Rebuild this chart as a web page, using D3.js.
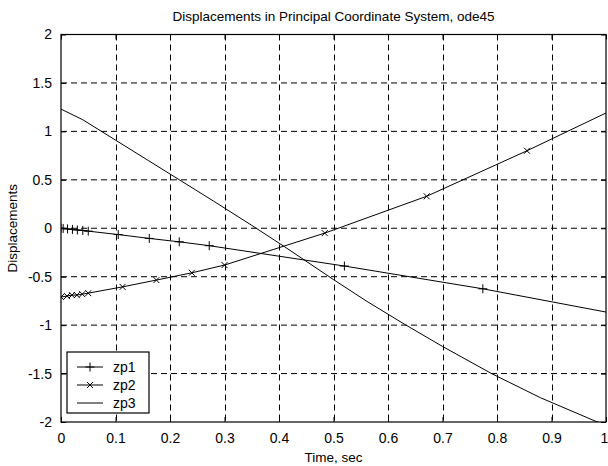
<!DOCTYPE html>
<html>
<head>
<meta charset="utf-8">
<script src="https://cdn.jsdelivr.net/npm/d3@7"></script>
<style>
  body { margin: 0; background: #fff; }
  text { font-family: "Liberation Sans", Arial, sans-serif; fill: #000; }
</style>
</head>
<body>
<div id="chart"></div>
<script>
// Data (ode45 output, adaptive steps)
const zp1T = [0, 0.004, 0.012, 0.021, 0.03, 0.04, 0.05, 0.105, 0.162, 0.217, 0.272, 0.52, 0.774, 1.0];
const zp1Y = [0, -0.002, -0.007, -0.012, -0.018, -0.023, -0.03, -0.065, -0.105, -0.14, -0.18, -0.39, -0.625, -0.865];

const zp2T = [0, 0.011, 0.02, 0.029, 0.039, 0.05, 0.113, 0.175, 0.24, 0.30, 0.484, 0.671, 0.855, 1.0];
const zp2Y = [-0.71, -0.70, -0.69, -0.69, -0.68, -0.67, -0.605, -0.535, -0.46, -0.38, -0.05, 0.33, 0.80, 1.19];

const zp3T = [0, 0.04, 0.1, 0.16, 0.22, 0.28, 0.35, 0.41, 0.5, 0.56, 0.63, 0.70, 0.79, 0.88, 0.98, 1.0];
const zp3Y = [1.23, 1.12, 0.91, 0.70, 0.49, 0.28, 0.03, -0.19, -0.53, -0.75, -0.99, -1.22, -1.50, -1.75, -1.99, -2.03];

const xTicks = [0, 0.1, 0.2, 0.3, 0.4, 0.5, 0.6, 0.7, 0.8, 0.9, 1];
const yTicks = [-2, -1.5, -1, -0.5, 0, 0.5, 1, 1.5, 2];
const seriesNames = ["zp1", "zp2", "zp3"];

const width = 608, height = 466;
const margin = { top: 34.5, right: 2, bottom: 44, left: 61 };
const w = width - margin.left - margin.right;
const h = height - margin.top - margin.bottom;

const svg = d3.select("#chart").append("svg")
    .attr("width", width)
    .attr("height", height);

const g = svg.append("g")
    .attr("transform", `translate(${margin.left},${margin.top})`);

const x = d3.scaleLinear().domain([0, 1]).range([0, w]);
const y = d3.scaleLinear().domain([-2, 2]).range([h, 0]);

// Grid
g.append("g").selectAll("line")
    .data(xTicks.slice(1, -1))
    .join("line")
    .attr("x1", d => Math.round(x(d)) + 0.5).attr("x2", d => Math.round(x(d)) + 0.5)
    .attr("y1", 0).attr("y2", h)
    .attr("stroke", "#000").attr("stroke-dasharray", "6,4");
g.append("g").selectAll("line")
    .data(yTicks.slice(1, -1))
    .join("line")
    .attr("x1", 0).attr("x2", w)
    .attr("y1", d => y(d)).attr("y2", d => y(d))
    .attr("stroke", "#000").attr("stroke-dasharray", "6,4");

// Axes with inward ticks on all sides
const fmt = d => String(d);
g.append("g").attr("transform", `translate(0,${h})`)
    .call(d3.axisBottom(x).tickValues(xTicks).tickFormat(fmt).tickSizeInner(-5).tickSizeOuter(0).tickPadding(11))
    .call(a => a.select(".domain").remove())
    .call(a => a.selectAll(".tick text").filter(d => d === 1).attr("dx", "-2"));
g.append("g")
    .call(d3.axisTop(x).tickValues(xTicks).tickFormat("").tickSizeInner(-5).tickSizeOuter(0))
    .call(a => a.select(".domain").remove());
g.append("g")
    .call(d3.axisLeft(y).tickValues(yTicks).tickFormat(fmt).tickSizeInner(-5).tickSizeOuter(0).tickPadding(9))
    .call(a => a.select(".domain").remove());
g.append("g").attr("transform", `translate(${w},0)`)
    .call(d3.axisRight(y).tickValues(yTicks).tickFormat("").tickSizeInner(-5).tickSizeOuter(0))
    .call(a => a.select(".domain").remove());
g.selectAll(".tick text").style("font-size", "14px").style("font-family", "Liberation Sans, Arial, sans-serif");
g.selectAll(".tick line").attr("stroke", "#000");

// Clip
svg.append("clipPath").attr("id", "clip")
    .append("rect").attr("width", w).attr("height", h);

const line = d3.line().x(d => x(d[0])).y(d => y(d[1]));
const plot = g.append("g").attr("clip-path", "url(#clip)");

const s1 = zp1T.map((t, i) => [t, zp1Y[i]]);
const s2 = zp2T.map((t, i) => [t, zp2Y[i]]);
const s3 = zp3T.map((t, i) => [t, zp3Y[i]]);

[s1, s2, s3].forEach(s => {
    plot.append("path").datum(s).attr("d", line)
        .attr("fill", "none").attr("stroke", "#000").attr("stroke-width", 1);
});

// Markers (the last point sits under the right frame in the reference)
const plusPath = r => `M${-r},0H${r}M0,${-r}V${r}`;
const crossPath = r => `M${-r},${-r}L${r},${r}M${-r},${r}L${r},${-r}`;
plot.selectAll(".m1").data(s1.filter(d => d[0] < 1)).join("path")
    .attr("transform", d => `translate(${x(d[0])},${y(d[1])})`)
    .attr("d", plusPath(4.5)).attr("stroke", "#000").attr("fill", "none");
plot.selectAll(".m2").data(s2.filter(d => d[0] < 1)).join("path")
    .attr("transform", d => `translate(${x(d[0])},${y(d[1])})`)
    .attr("d", crossPath(3)).attr("stroke", "#000").attr("fill", "none");

// Box
g.append("rect").attr("width", w).attr("height", h)
    .attr("fill", "none").attr("stroke", "#000").attr("stroke-width", 1.2);

// Title and labels
svg.append("text").attr("x", margin.left + w / 2).attr("y", 21)
    .attr("text-anchor", "middle").style("font-size", "13.5px")
    .text("Displacements in Principal Coordinate System, ode45");
svg.append("text").attr("x", margin.left + w / 2).attr("y", 462)
    .attr("text-anchor", "middle").style("font-size", "13.5px")
    .text("Time, sec");
svg.append("text").attr("transform", `translate(17,${margin.top + h / 2}) rotate(-90)`)
    .attr("text-anchor", "middle").style("font-size", "13.5px")
    .text("Displacements");

// Legend
const lg = svg.append("g").attr("transform", "translate(67,352)");
lg.append("rect").attr("width", 82).attr("height", 61)
    .attr("fill", "#fff").attr("stroke", "#000").attr("stroke-width", 1.2);
seriesNames.forEach((name, i) => {
    const ly = 15 + i * 18;
    lg.append("line").attr("x1", 10).attr("x2", 36).attr("y1", ly).attr("y2", ly).attr("stroke", "#000");
    if (i === 0) lg.append("path").attr("transform", `translate(23,${ly})`).attr("d", plusPath(4.5)).attr("stroke", "#000");
    if (i === 1) lg.append("path").attr("transform", `translate(23,${ly})`).attr("d", crossPath(3)).attr("stroke", "#000");
    lg.append("text").attr("x", 46).attr("y", ly + 5).style("font-size", "14px").text(name);
});
</script>
</body>
</html>
